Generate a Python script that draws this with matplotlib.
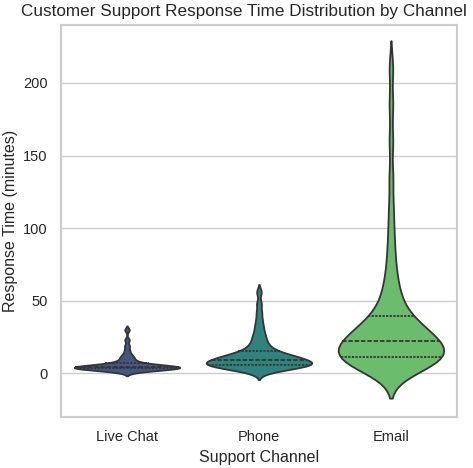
import numpy as np
import pandas as pd
import matplotlib
matplotlib.use("Agg")
import matplotlib.pyplot as plt
import seaborn as sns

# response times in minutes
live_chat = [1, 1.5, 2, 2, 2.5, 2.5, 3, 3, 3, 3, 3.5, 3.5, 3.5, 3.5, 4, 4, 4, 4, 4,
             4.5, 4.5, 4.5, 4.5, 5, 5, 5, 5, 5.5, 5.5, 5.5, 6, 6, 6.5, 7, 7.5, 8, 9,
             10, 11, 12, 13.5, 16, 19, 23, 30]
phone = [1, 2, 2.5, 3, 3.5, 4, 4.5, 4.5, 5, 5, 5.5, 5.5, 5.5, 6, 6, 6.5, 6.5, 7, 7,
         7.5, 7.5, 8, 8, 8.5, 8.5, 9, 9, 9.5, 10, 10, 10.5, 11, 11, 11.5, 12, 12.5,
         13, 13, 13.5, 14, 15, 16, 17, 18, 19.5, 21, 23, 25, 27, 30, 33, 37, 42, 48, 56]
email = [2, 3, 4, 5, 6, 6.5, 7, 7.5, 8, 8.5, 9, 9.5, 10, 10.5, 10.5, 11, 11.5, 12, 13,
         14, 15, 16, 17, 17.5, 18, 19, 19.5, 20, 21, 21.5, 22, 22.5, 23, 24, 25, 26, 27,
         28, 29, 30, 31, 32.5, 34, 35.5, 37, 39, 40, 43, 46, 50, 54, 58, 63, 70, 78, 88,
         100, 115, 135, 160, 185, 210]
channels = ["Live Chat", "Phone", "Email"]

df = pd.DataFrame({
    "Support Channel": (["Live Chat"] * len(live_chat) + ["Phone"] * len(phone)
                        + ["Email"] * len(email)),
    "Response Time (minutes)": live_chat + phone + email,
})

sns.set_theme(style="whitegrid")
plt.rcParams["font.family"] = ["Liberation Sans", "DejaVu Sans"]

fig, ax = plt.subplots(figsize=(4.73, 4.68), dpi=100)
sns.violinplot(data=df, x="Support Channel", y="Response Time (minutes)",
               hue="Support Channel", order=channels, palette="viridis",
               inner="quartile", density_norm="width", bw_adjust=0.5,
               linewidth=1.3, legend=False, ax=ax)

ax.set_title("Customer Support Response Time Distribution by Channel",
             fontsize=12.3, x=0.462)
ax.set_xlabel("Support Channel", fontsize=11.5)
ax.set_ylabel("Response Time (minutes)", fontsize=11.5)
ax.tick_params(labelsize=10.5)
ax.set_ylim(-30, 240)
for s in ax.spines.values():
    s.set_color("#cccccc")
    s.set_linewidth(1.5)

fig.subplots_adjust(left=0.129, right=0.966, top=0.947, bottom=0.109)
plt.savefig("out.png", dpi=100)
